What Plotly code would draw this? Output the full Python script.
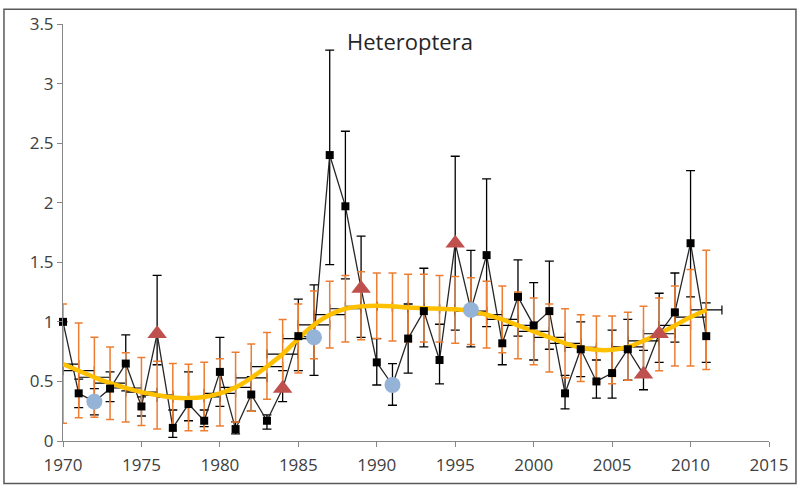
import plotly.graph_objects as go

# Yearly abundance index of Heteroptera with its confidence limits
years = list(range(1970, 2012))
abundance = [1.00, 0.40, 0.33, 0.44, 0.65, 0.29, 0.90, 0.11, 0.31, 0.17,
             0.58, 0.10, 0.39, 0.17, 0.44, 0.88, 0.87, 2.40, 1.97, 1.28,
             0.66, 0.47, 0.86, 1.09, 0.68, 1.66, 1.10, 1.56, 0.82, 1.21,
             0.97, 1.09, 0.40, 0.77, 0.50, 0.57, 0.77, 0.56, 0.90, 1.08,
             1.66, 0.88]
abundance_upper = [1.00, 0.52, 0.44, 0.58, 0.89, 0.37, 1.39, 0.26, 0.58, 0.26,
                   0.87, 0.16, 0.54, 0.22, 0.59, 1.19, 1.31, 3.28, 2.60, 1.72,
                   0.86, 0.65, 1.15, 1.45, 0.98, 2.39, 1.60, 2.20, 1.02, 1.52,
                   1.33, 1.51, 0.55, 1.00, 0.68, 0.93, 1.02, 0.76, 1.24, 1.41,
                   2.27, 1.16]
abundance_lower = [1.00, 0.28, 0.22, 0.33, 0.42, 0.21, 0.64, 0.03, 0.17, 0.12,
                   0.29, 0.06, 0.25, 0.10, 0.33, 0.59, 0.55, 1.48, 1.36, 0.87,
                   0.47, 0.30, 0.57, 0.79, 0.48, 0.93, 0.79, 0.96, 0.64, 0.88,
                   0.68, 0.77, 0.27, 0.54, 0.36, 0.36, 0.51, 0.43, 0.66, 0.83,
                   1.21, 0.66]

# Smoothed trend and its confidence band
trend = [0.645, 0.59, 0.535, 0.485, 0.445, 0.41, 0.385, 0.365, 0.36, 0.37,
         0.40, 0.45, 0.53, 0.625, 0.73, 0.86, 0.975, 1.06, 1.11, 1.13,
         1.135, 1.13, 1.12, 1.115, 1.11, 1.105, 1.09, 1.06, 1.02, 0.97,
         0.92, 0.87, 0.82, 0.785, 0.765, 0.765, 0.79, 0.84, 0.90, 0.97,
         1.04, 1.10]
trend_upper = [1.15, 0.99, 0.87, 0.79, 0.74, 0.70, 0.67, 0.65, 0.645, 0.66,
               0.69, 0.745, 0.815, 0.91, 1.02, 1.15, 1.26, 1.34, 1.39, 1.42,
               1.41, 1.41, 1.40, 1.40, 1.39, 1.38, 1.37, 1.34, 1.30, 1.25,
               1.20, 1.15, 1.11, 1.06, 1.05, 1.05, 1.08, 1.13, 1.20, 1.30,
               1.44, 1.60]
trend_lower = [0.15, 0.195, 0.20, 0.18, 0.16, 0.13, 0.10, 0.09, 0.085, 0.085,
               0.125, 0.16, 0.25, 0.35, 0.44, 0.57, 0.69, 0.78, 0.83, 0.85,
               0.86, 0.84, 0.83, 0.83, 0.83, 0.82, 0.81, 0.78, 0.74, 0.69,
               0.64, 0.58, 0.53, 0.50, 0.49, 0.48, 0.51, 0.56, 0.59, 0.63,
               0.63, 0.60]
trend_year_span = 1

# Years flagged as significantly high / low
high_years = [1976, 1984, 1989, 1995, 2007, 2008]
low_years = [1972, 1986, 1991, 1996]

x_ticks = [1970, 1975, 1980, 1985, 1990, 1995, 2000, 2005, 2010, 2015]
y_ticks = [0, 0.5, 1, 1.5, 2, 2.5, 3, 3.5]
y_tick_text = ["0", "0.5", "1", "1.5", "2", "2.5", "3", "3.5"]
title_text = "Heteroptera"

value_by_year = dict(zip(years, abundance))
flagged = set(high_years) | set(low_years)
plain_years = [y for y in years if y not in flagged]
plain_vals = [value_by_year[y] for y in plain_years]

fig = go.Figure()

# abundance line with its confidence limits
fig.add_trace(go.Scatter(
    x=years, y=abundance, mode="lines",
    line=dict(color="#262626", width=1.3),
    error_y=dict(type="data", symmetric=False,
                 array=[u - v for u, v in zip(abundance_upper, abundance)],
                 arrayminus=[v - l for v, l in zip(abundance, abundance_lower)],
                 color="#000000", thickness=1.3, width=4.5),
    hoverinfo="skip", showlegend=False))

# horizontal spans of the trend
fig.add_trace(go.Scatter(
    x=years, y=trend, mode="lines",
    line=dict(color="rgba(0,0,0,0)", width=1),
    error_x=dict(type="constant", value=trend_year_span, color="#000000",
                 thickness=1.2, width=4.5, copy_ystyle=False),
    hoverinfo="skip", showlegend=False))

# trend curve with its confidence band
fig.add_trace(go.Scatter(
    x=years, y=trend, mode="lines",
    line=dict(color="#FFC000", width=4.5, shape="spline", smoothing=1.0),
    error_y=dict(type="data", symmetric=False,
                 array=[u - v for u, v in zip(trend_upper, trend)],
                 arrayminus=[v - l for v, l in zip(trend, trend_lower)],
                 color="#ED7D31", thickness=1.5, width=4),
    hoverinfo="skip", showlegend=False))

fig.add_trace(go.Scatter(
    x=plain_years, y=plain_vals, mode="markers",
    marker=dict(symbol="square", size=8, color="#000000"),
    cliponaxis=False, showlegend=False))

fig.add_trace(go.Scatter(
    x=high_years, y=[value_by_year[y] for y in high_years], mode="markers",
    marker=dict(symbol="triangle-up", size=17, color="#C0504D"),
    cliponaxis=False, showlegend=False))

fig.add_trace(go.Scatter(
    x=low_years, y=[value_by_year[y] for y in low_years], mode="markers",
    marker=dict(symbol="circle", size=16, color="#95B3D7"),
    cliponaxis=False, showlegend=False))

fig.add_annotation(x=1988.0, y=3.36, xref="x", yref="y", text=title_text,
                   showarrow=False, xanchor="left", yanchor="middle",
                   font=dict(family="Open Sans", size=22, color="#262626"))

# outer frame around the whole chart
fig.add_shape(type="rect", xref="paper", yref="paper",
              x0=-0.0836, x1=1.0382, y0=-0.1017, y1=1.0355,
              line=dict(color="#595959", width=1.5))

tick_font = dict(family="Open Sans", size=17, color="#404040")
fig.update_xaxes(range=[1970, 2015], tickvals=x_ticks, ticks="outside",
                 ticklen=5, tickcolor="#868686", showline=True,
                 linecolor="#868686", linewidth=1, showgrid=False,
                 zeroline=False, tickfont=tick_font, ticklabelstandoff=4)
fig.update_yaxes(range=[0, 3.5], tickvals=y_ticks, ticktext=y_tick_text,
                 ticks="outside", ticklen=5, tickcolor="#868686",
                 showline=True, linecolor="#868686", linewidth=1,
                 showgrid=False, zeroline=False, tickfont=tick_font)

fig.update_layout(width=800, height=488,
                  margin=dict(l=63, r=31, t=19, b=46),
                  paper_bgcolor="#FFFFFF", plot_bgcolor="#FFFFFF")

fig.write_html("out.html")
